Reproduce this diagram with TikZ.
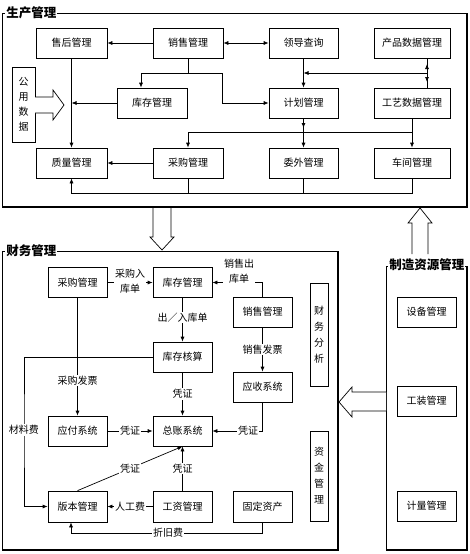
\documentclass[tikz,border=0pt]{standalone}
\usepackage{fontspec}
\setmainfont{Noto Sans CJK SC}
\usetikzlibrary{arrows.meta,calc}
\begin{document}
\begin{tikzpicture}[x=1pt,y=-1pt,
 line width=0.7pt,
 box/.style={draw,minimum width=59pt,minimum height=30pt,inner sep=0pt,font=\fontsize{10}{12}\selectfont},
 vbox/.style={draw,inner sep=0pt,align=center,font=\fontsize{10}{16}\selectfont},
 arr/.style={-{Latex[length=5pt,width=4pt]}},
 darr/.style={{Latex[length=5pt,width=4pt]}-{Latex[length=5pt,width=4pt]}},
 lbl/.style={fill=white,inner sep=1pt,font=\fontsize{10}{15}\selectfont,align=center},
 ttl/.style={fill=white,inner sep=1pt,font=\fontsize{12.5}{14}\selectfont\bfseries,anchor=west},
 shadowline/.style={line width=1.8pt},
 hollow/.style={draw,fill=white,line width=0.7pt}]
\useasboundingbox (0,0) rectangle (470,554);

% ---------- frames ----------
\draw (2,13) rectangle (467,207);
\draw[shadowline] (467,13) -- (467,207) -- (2,207);
\node[ttl] (t1) at (5,13) {生产管理};

\draw (2,251) rectangle (338,550);
\draw[shadowline] (338,251) -- (338,550) -- (2,550);
\node[ttl] (t2) at (5,251) {财务管理};

\draw (386,266) rectangle (467,550);
\draw[shadowline] (467,266) -- (467,550) -- (386,550);
\node[ttl] (t3) at (388,265) {制造资源管理};

% ---------- production boxes ----------
\node[box,minimum width=71pt] (shgl) at (71.5,43) {售后管理};
\node[box,minimum width=70pt] (xsgl) at (188,43) {销售管理};
\node[box,minimum width=69pt] (ldcx) at (303.5,43) {领导查询};
\node[box,minimum width=76pt] (cpsj) at (412,43) {产品数据管理};
\node[box,minimum width=70pt] (kcgl) at (152,103) {库存管理};
\node[box,minimum width=69pt] (jhgl) at (303.5,103) {计划管理};
\node[box,minimum width=76pt] (gysj) at (412,103) {工艺数据管理};
\node[box,minimum width=71pt] (zlgl) at (71.5,163) {质量管理};
\node[box,minimum width=70pt] (cggl) at (188,163) {采购管理};
\node[box,minimum width=69pt] (wwgl) at (303.5,163) {委外管理};
\node[box,minimum width=76pt] (cjgl) at (412,163) {车间管理};
\node[vbox,minimum width=23pt,minimum height=75pt,font=\fontsize{10}{15}\selectfont] (gy) at (23.5,104.5) {公\\用\\数\\据};
\draw[hollow] (35,97) -- (53,97) -- (53,90) -- (64,105) -- (53,120) -- (53,113) -- (35,113);

% ---------- production connectors ----------
\draw[arr] (xsgl.west) -- (shgl.east);
\draw[darr] (xsgl.east) -- (ldcx.west);
\coordinate (a1) at (188,73);
\coordinate (a2) at (222,73);
\draw[arr] (xsgl.south) -- (a1) -| ([xshift=-11pt]kcgl.north);
\draw[arr] (a1) -- (a2) |- (jhgl.west);
\draw[arr] (kcgl.west) -- (kcgl.west -| shgl.south);
\draw[arr] (shgl.south) -- (zlgl.north);
\draw[arr] (cggl.west) -- (zlgl.east);
\draw[arr] (ldcx.south) -- (jhgl.north);
\coordinate (j1) at (427,73);
\draw[arr] (j1) -- (j1 -| ldcx.south);
\draw ([xshift=15pt]cpsj.south) -- ([xshift=15pt]gysj.north);
\coordinate (j2) at (427,64);
\coordinate (j3) at (427,82);
\draw[arr] (j1) -- (j2);
\draw[arr] (j1) -- (j3);
\coordinate (k1) at (303.5,128);
\draw[arr] (jhgl.south) -- (k1);
\draw[arr] (jhgl.south) -- (wwgl.north);
\coordinate (h1) at (412,132);
\draw[arr] (gysj.south) -- (cjgl.north);
\draw[arr] (h1) -| (cggl.north);
\coordinate (b1) at (412,193);
\draw[arr] (cjgl.south) -- (b1) -| (zlgl.south);
\draw (cggl.south) -- (cggl.south |- b1);
\draw (wwgl.south) -- (wwgl.south |- b1);

% ---------- hollow arrows between sections ----------
\draw[hollow] (153,208) -- (153,237) -- (150,237) -- (162,250) -- (174,237) -- (171,237) -- (171,208);
\draw[hollow] (412,254) -- (412,223) -- (408,223) -- (420,208) -- (432,223) -- (428,223) -- (428,254);
\draw[hollow] (386,392) -- (352,392) -- (352,387) -- (339,402) -- (352,417) -- (352,411) -- (386,411);

% ---------- finance boxes ----------
\node[box] (fcg) at (77.5,282.5) {采购管理};
\node[box] (fkc) at (182.5,282.5) {库存管理};
\node[box] (fkh) at (182.5,357) {库存核算};
\node[box] (fxs) at (262.5,312) {销售管理};
\node[box] (fys) at (262.5,387) {应收系统};
\node[box] (fyf) at (77.5,431) {应付系统};
\node[box] (fzz) at (182.5,431) {总账系统};
\node[box,minimum height=31pt] (fbb) at (77.5,506.5) {版本管理};
\node[box,minimum height=31pt] (fgz) at (182.5,506.5) {工资管理};
\node[box,minimum height=31pt] (fgd) at (262.5,506.5) {固定资产};
\node[vbox,minimum width=18pt,minimum height=103pt] (fcw) at (319,334.5) {财\\务\\分\\析};
\node[vbox,minimum width=18pt,minimum height=90pt] (fzj) at (319,476) {资\\金\\管\\理};

% ---------- finance connectors ----------
\draw[arr] (fcg.east) -- (fkc.west);
\node[lbl] at (130,281) {采购入\\库单};
\coordinate (s1) at (262.5,282.5);
\draw[arr] (fxs.north) -- (s1) -- (fkc.east);
\node[lbl] at (239,271) {销售出\\库单};
\draw[arr] (fkc.south) -- (fkh.north) node[lbl,pos=0.45] {出／入库单};
\draw[arr] (fcg.south) -- (fyf.north) node[lbl,pos=0.7] {采购发票};
\coordinate (m1) at (24,430);
\draw[arr] (fkh.west) -| (m1) |- (fbb.west);
\node[lbl] at (m1) {材料费};
\draw[arr] (fkh.south) -- (fzz.north) node[lbl,midway] {凭证};
\draw[arr] (fxs.south) -- (fys.north) node[lbl,midway] {销售发票};
\coordinate (r1) at (262.5,431);
\draw[arr] (fys.south) -- (r1) -- (fzz.east);
\node[lbl] at (248,431) {凭证};
\draw[arr] (fyf.east) -- (fzz.west) node[lbl,midway] {凭证};
\draw[arr] (fbb.north) -- (fzz.south) node[lbl,midway] {凭证};
\draw[arr] (fgz.north) -- (fzz.south) node[lbl,midway] {凭证};
\draw[arr] (fgz.west) -- (fbb.east) node[lbl,midway] {人工费};
\coordinate (z1) at (262.5,533);
\draw[arr] (fgd.south) -- (z1) -| ([xshift=-6.5pt]fbb.south);
\node[lbl] at (168,533) {折旧费};

% ---------- manufacturing boxes ----------
\node[box] (msb) at (426.5,312) {设备管理};
\node[box] (mgz) at (426.5,401) {工装管理};
\node[box] (mjl) at (426.5,506) {计量管理};
\end{tikzpicture}
\end{document}
